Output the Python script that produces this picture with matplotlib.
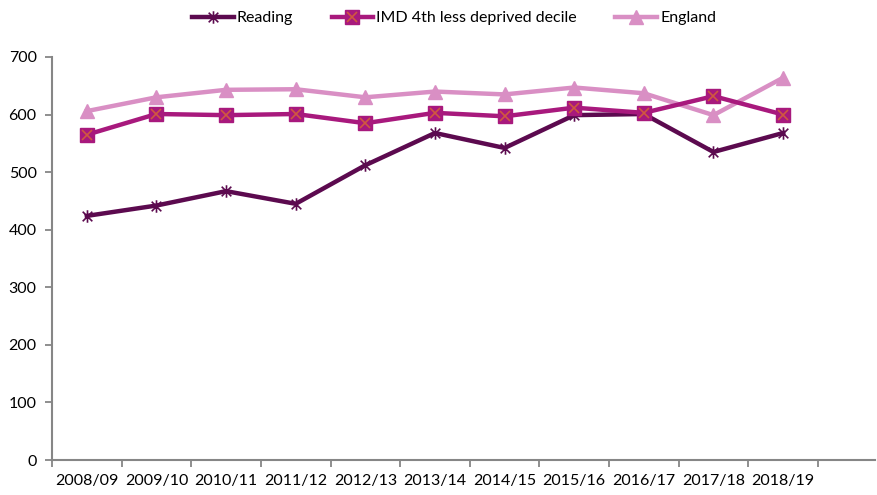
import matplotlib
matplotlib.use("Agg")
import matplotlib.pyplot as plt
from matplotlib.path import Path
from matplotlib.legend_handler import HandlerTuple
import numpy as np

years = ["2008/09", "2009/10", "2010/11", "2011/12", "2012/13", "2013/14",
         "2014/15", "2015/16", "2016/17", "2017/18", "2018/19"]
reading = [424, 442, 467, 445, 512, 568, 542, 599, 601, 535, 568]
imd = [565, 601, 599, 601, 585, 603, 597, 612, 603, 632, 600]
england = [606, 630, 643, 644, 630, 640, 635, 647, 637, 599, 664]

c_read = "#5C0A4F"
c_imd = "#A8197D"
c_imd_x = "#D0583F"
c_eng = "#D98FC4"

plt.rcParams['font.family'] = ['Lato', 'DejaVu Sans']

fig = plt.figure(figsize=(8.77, 4.95), dpi=100)
ax = fig.add_axes([52/877, 1-460/495, (875-52)/877, (460-57)/495])

x = np.arange(len(years))

star = Path([(-1, -1), (1, 1), (-1, 1), (1, -1), (0, -1.3), (0, 1.3)],
            [Path.MOVETO, Path.LINETO, Path.MOVETO, Path.LINETO, Path.MOVETO, Path.LINETO])

l1, = ax.plot(x, reading, color=c_read, lw=3.2, marker=star, ms=9, mew=1.2,
              mec=c_read, mfc='none', zorder=3)
l2, = ax.plot(x, imd, color=c_imd, lw=3.2, marker='s', ms=9.5, mec=c_imd, mfc=c_imd, zorder=4)
l2x, = ax.plot(x, imd, color='none', lw=0, marker='x', ms=7, mew=1.2, mec=c_imd_x, zorder=5)
l3, = ax.plot(x, england, color=c_eng, lw=3.2, marker='^', ms=10, mec=c_eng, mfc=c_eng, zorder=2)

ax.set_ylim(0, 700)
ax.set_yticks(range(0, 701, 100))
ax.set_xlim(-0.5, 11.32)
ax.set_xticks(x)
ax.set_xticklabels(years)
ax.set_xticks(np.arange(-0.5, 11, 1.0), minor=True)
ax.tick_params(axis='x', which='major', length=0, pad=10, labelsize=11.5)
ax.tick_params(axis='x', which='minor', length=5, width=1.3, color='#868686', direction='out')
ax.tick_params(axis='y', length=5, width=1.3, color='#868686', labelsize=11.5, pad=6)

for s in ['top', 'right']:
    ax.spines[s].set_visible(False)
for s in ['left', 'bottom']:
    ax.spines[s].set_color('#868686')
    ax.spines[s].set_linewidth(1.5)

ax.legend([l1, (l2, l2x), l3],
          ["Reading", "IMD 4th less deprived decile", "England"],
          handler_map={tuple: HandlerTuple(ndivide=1, pad=0)},
          loc='upper center', bbox_to_anchor=(0.5 - 10/877, 1 + 38/403 + 0.055),
          ncol=3, frameon=False, fontsize=11.5, handlelength=2.6,
          handletextpad=0.2, columnspacing=2.4)

fig.savefig("out.png", dpi=100)
